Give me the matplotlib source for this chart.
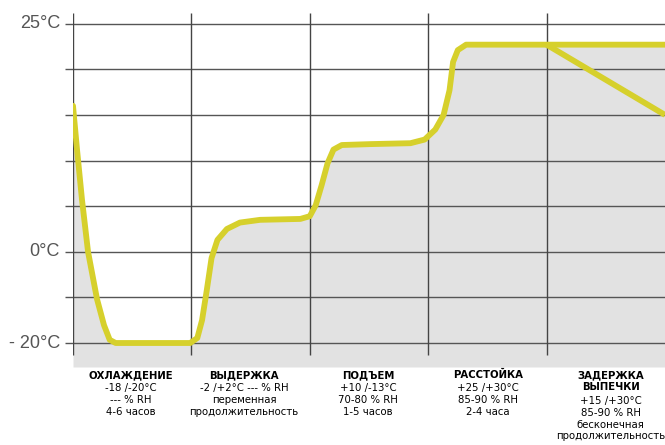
import numpy as np
import matplotlib.pyplot as plt

# фазы (колонки) и кривая температуры, x - доля фазы, t - °C
phase_x = [0.00, 0.034, 0.076, 0.127, 0.203, 0.262, 0.31, 0.36, 0.99, 1.05, 1.09, 1.13, 1.17,
           1.22, 1.30, 1.41, 1.58, 1.92, 2.00, 2.05, 2.10, 2.15, 2.20, 2.27, 2.51, 2.85, 2.97,
           3.06, 3.13, 3.18, 3.21, 3.25, 3.32, 5.00]
temp_c = [16.0, 11.2, 5.7, 0.0, -10.4, -16.1, -19.3, -20.0, -20.0, -18.9, -15.0, -8.4, -1.4,
          1.3, 2.5, 3.2, 3.5, 3.6, 3.9, 5.1, 7.3, 9.7, 11.2, 11.7, 11.8, 11.9, 12.3,
          13.4, 15.0, 17.7, 20.8, 22.1, 22.7, 22.7]

# задержка выпечки - наклонная линия
delay_x = [4.0, 5.0]
delay_t = [22.7, 15.0]

tick_temps = [-20, 0, 25]
tick_labels = ['- 20°C', '0°C', '25°C']

titles = ['ОХЛАЖДЕНИЕ', 'ВЫДЕРЖКА', 'ПОДЪЕМ', 'РАССТОЙКА', 'ЗАДЕРЖКА\nВЫПЕЧКИ']
details = ['-18 /-20°C\n--- % RH\n4-6 часов',
           '-2 /+2°C --- % RH\nпеременная\nпродолжительность',
           '+10 /-13°C\n70-80 % RH\n1-5 часов',
           '+25 /+30°C\n85-90 % RH\n2-4 часа',
           '+15 /+30°C\n85-90 % RH\nбесконечная\nпродолжительность']
text_x = [0.49, 1.445, 2.49, 3.505, 4.54]


# шкала нелинейная: 5 делений на 0..25, 2 деления на -20..0
def level(t):
    return np.interp(t, [-20, 0, 25], [0, 2, 7])


curve = level(np.array(temp_c))
delay = level(np.array(delay_t))

fig = plt.figure(figsize=(6.65, 4.45), dpi=100)
ax = fig.add_axes([73 / 665, 1 - 367 / 445, 592 / 665, 357 / 445])
ax.set_xlim(0, 5)
ax.set_ylim(-0.526, 7.30)

ax.fill_between(phase_x, curve, -0.526, color='#e2e2e2', lw=0, zorder=1)

for k in range(8):
    ax.axhline(k, color='#555555', lw=1.0, zorder=2)
ax.vlines(range(5), -0.26, 7.24, color='#444444', lw=1.0, zorder=2)

ax.plot(phase_x, curve, color='#d6d02c', lw=4.2, solid_joinstyle='round',
        solid_capstyle='round', zorder=3)
ax.plot(delay_x, delay, color='#d6d02c', lw=4.2, solid_capstyle='butt', zorder=3)

for s in ax.spines.values():
    s.set_visible(False)
ax.set_xticks([])
ax.set_yticks(range(8))
ax.set_yticklabels(['' for _ in range(8)])
ax.tick_params(axis='y', length=6, width=1.0, color='#555555', pad=6)
for t, lab in zip(tick_temps, tick_labels):
    ax.text(-0.11, level(t), lab, ha='right', va='center', fontsize=13, color='#555555',
            family='Liberation Sans')

line_h = 12.8 / 45.6
for x, title, det in zip(text_x, titles, details):
    n = title.count('\n') + 1
    ax.text(x, -0.60, title, ha='center', va='top', fontsize=7.3, fontweight='bold',
            linespacing=1.22, clip_on=False)
    ax.text(x, -0.60 - line_h * n, det, ha='center', va='top', fontsize=7.3,
            linespacing=1.22, clip_on=False)

fig.savefig('out.png', dpi=100)
